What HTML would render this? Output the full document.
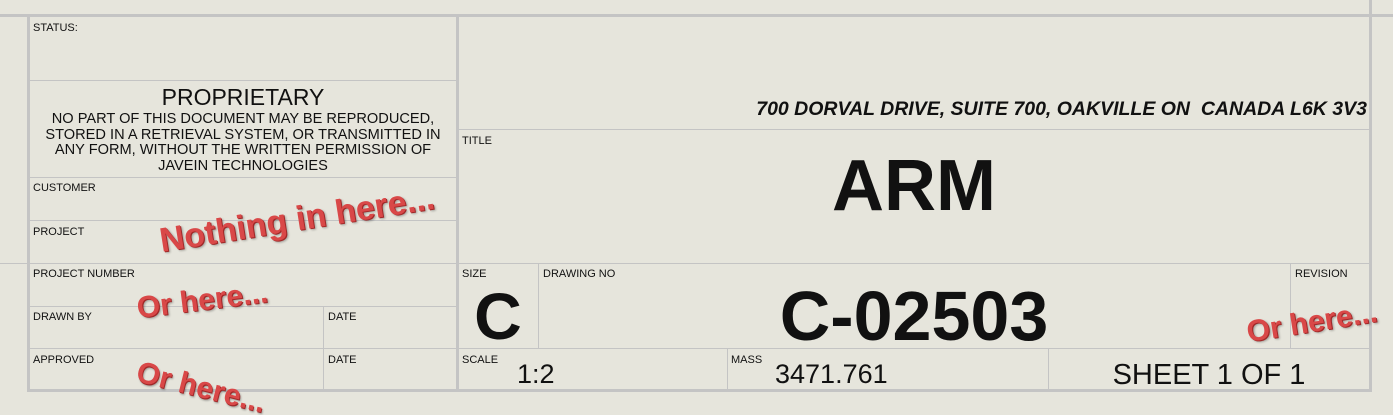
<!DOCTYPE html>
<html><head><meta charset="utf-8"><style>
html,body{margin:0;width:1393px;height:415px;overflow:hidden}
body{background:#e6e5dc;position:relative;font-family:"Liberation Sans",sans-serif}
.l{position:absolute;background:#c4c4c4}
.t{position:absolute;color:#111;white-space:nowrap}
.s{font-size:11px}
.red{position:absolute;color:#d94848;font-weight:bold;font-family:"Liberation Sans",sans-serif;white-space:nowrap;text-shadow:1px 1px 0 #a02828,2px 2px 2px rgba(0,0,0,.3);transform-origin:left center}
</style></head><body>
<div class="l" style="left:0;top:14px;width:1393px;height:3px"></div>
<div class="l" style="left:27px;top:15px;width:3px;height:377px"></div>
<div class="l" style="left:456px;top:15px;width:3px;height:377px"></div>
<div class="l" style="left:1369px;top:0;width:3px;height:392px"></div>
<div class="l" style="left:27px;top:389px;width:1345px;height:3px"></div>
<div class="l" style="left:0;top:263px;width:28px;height:1px"></div>
<div class="l" style="left:28px;top:80px;width:430px;height:1px"></div>
<div class="l" style="left:28px;top:177px;width:430px;height:1px"></div>
<div class="l" style="left:28px;top:220px;width:430px;height:1px"></div>
<div class="l" style="left:28px;top:263px;width:430px;height:1px"></div>
<div class="l" style="left:28px;top:306px;width:430px;height:1px"></div>
<div class="l" style="left:28px;top:348px;width:430px;height:1px"></div>
<div class="l" style="left:323px;top:306px;width:1px;height:84px"></div>
<div class="l" style="left:458px;top:129px;width:912px;height:1px"></div>
<div class="l" style="left:458px;top:263px;width:912px;height:1px"></div>
<div class="l" style="left:458px;top:348px;width:912px;height:1px"></div>
<div class="l" style="left:538px;top:263px;width:1px;height:85px"></div>
<div class="l" style="left:1290px;top:263px;width:1px;height:85px"></div>
<div class="l" style="left:727px;top:348px;width:1px;height:42px"></div>
<div class="l" style="left:1048px;top:348px;width:1px;height:42px"></div>

<div class="t s" style="left:33px;top:22px">STATUS:</div>
<div class="t" style="left:28px;top:84px;width:430px;text-align:center;font-size:23px">PROPRIETARY</div>
<div class="t" style="left:28px;top:112px;width:430px;text-align:center;font-size:14.6px;line-height:15.5px;white-space:normal">NO PART OF THIS DOCUMENT MAY BE REPRODUCED,<br>STORED IN A RETRIEVAL SYSTEM, OR TRANSMITTED IN<br>ANY FORM, WITHOUT THE WRITTEN PERMISSION OF<br>JAVEIN TECHNOLOGIES</div>
<div class="t s" style="left:33px;top:182px">CUSTOMER</div>
<div class="t s" style="left:33px;top:226px">PROJECT</div>
<div class="t s" style="left:33px;top:268px">PROJECT NUMBER</div>
<div class="t s" style="left:33px;top:311px">DRAWN BY</div>
<div class="t s" style="left:328px;top:311px">DATE</div>
<div class="t s" style="left:33px;top:354px">APPROVED</div>
<div class="t s" style="left:328px;top:354px">DATE</div>

<div class="t" style="right:26px;top:98px;font-size:19.5px;font-weight:bold;font-style:italic">700 DORVAL DRIVE, SUITE 700, OAKVILLE ON&nbsp; CANADA L6K 3V3</div>
<div class="t s" style="left:462px;top:135px">TITLE</div>
<div class="t" style="left:458px;top:146px;width:912px;text-align:center;font-size:72px;font-weight:bold;line-height:80px">ARM</div>
<div class="t s" style="left:462px;top:268px">SIZE</div>
<div class="t" style="left:458px;top:279px;width:80px;text-align:center;font-size:66px;font-weight:bold;line-height:74px">C</div>
<div class="t s" style="left:543px;top:268px">DRAWING NO</div>
<div class="t" style="left:538px;top:277px;width:752px;text-align:center;font-size:70px;font-weight:bold;line-height:78px">C-02503</div>
<div class="t s" style="left:1295px;top:268px">REVISION</div>
<div class="t s" style="left:462px;top:354px">SCALE</div>
<div class="t" style="left:517px;top:359px;font-size:27px">1:2</div>
<div class="t s" style="left:731px;top:354px">MASS</div>
<div class="t" style="left:775px;top:359px;font-size:27px">3471.761</div>
<div class="t" style="left:1048px;top:359px;width:322px;text-align:center;font-size:29px">SHEET 1 OF 1</div>

<div class="red" style="left:160px;top:222px;font-size:34px;transform:rotate(-9deg)">Nothing in here...</div>
<div class="red" style="left:137px;top:292px;font-size:30px;transform:rotate(-7deg)">Or here...</div>
<div class="red" style="left:137px;top:355px;font-size:30px;transform:rotate(14deg)">Or here...</div>
<div class="red" style="left:1247px;top:316px;font-size:30px;transform:rotate(-9deg)">Or here...</div>
</body></html>
